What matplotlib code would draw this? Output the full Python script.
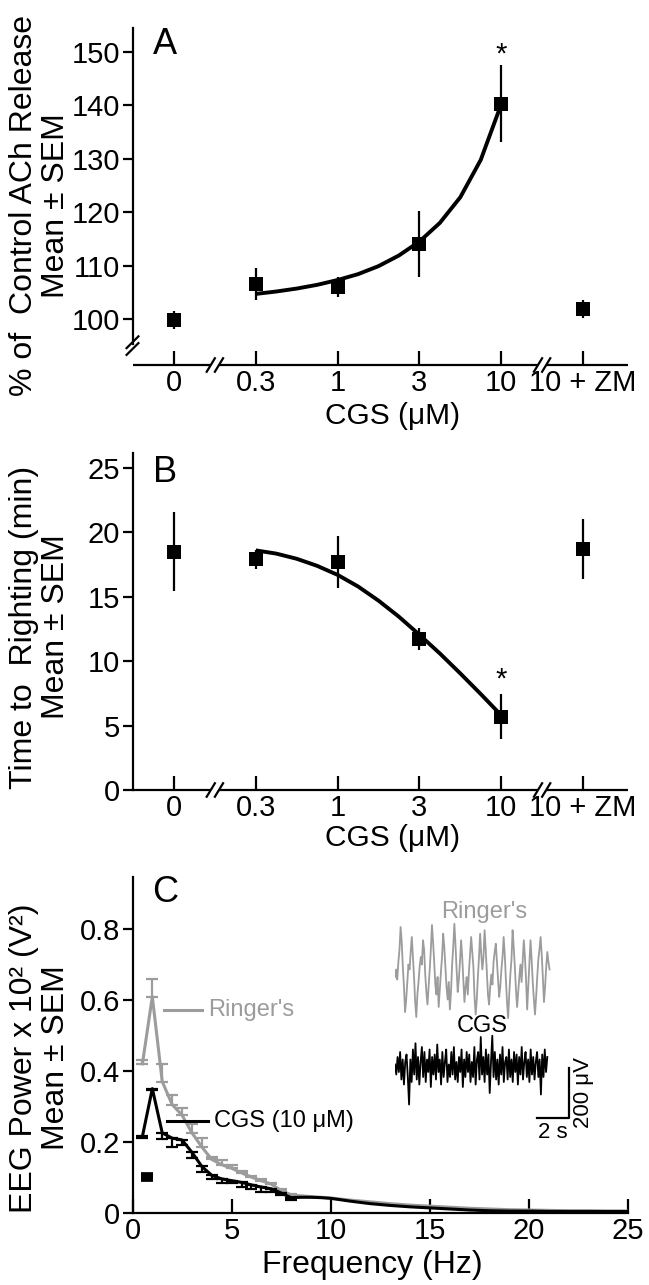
import matplotlib
matplotlib.use("Agg")
import matplotlib.pyplot as plt
from matplotlib import font_manager
import numpy as np

# ---------------- data ----------------
cgs_labels = ["0", "0.3", "1", "3", "10", "10 + ZM"]

ach_mean = [99.8, 106.5, 106.0, 114.1, 140.3, 101.9]
ach_sem = [1.7, 3.0, 1.9, 6.2, 7.2, 1.7]
ach_fit_pos = [1.0, 1.25, 1.5, 1.75, 2.0, 2.25, 2.5, 2.75, 3.0, 3.25, 3.5, 3.75, 4.0]
ach_fit_val = [104.7, 105.15, 105.7, 106.4, 107.3, 108.4, 109.9, 111.9, 114.5, 118.0, 122.8,
               129.8, 140.2]

rr_mean = [18.5, 17.9, 17.7, 11.7, 5.7, 18.7]
rr_sem = [3.05, 0.75, 2.0, 0.85, 1.75, 2.3]
rr_fit_pos = [1.0, 1.25, 1.5, 1.75, 2.0, 2.25, 2.5, 2.75, 3.0, 3.25, 3.5, 3.75, 4.0]
rr_fit_val = [18.6, 18.35, 17.95, 17.4, 16.7, 15.8, 14.7, 13.45, 12.05, 10.6, 9.05, 7.45, 5.8]

freq_hz = [0.5, 1.0, 1.5, 2.0, 2.5, 3.0, 3.5, 4.0, 4.5, 5.0, 5.5, 6.0, 6.5, 7.0, 7.5, 8.0,
           8.5, 9.0, 9.5, 10.0, 11, 12, 13, 14, 15, 16, 17, 18, 19, 20, 21, 22, 23, 24, 25]
ringer_power = [0.42, 0.61, 0.37, 0.305, 0.275, 0.225, 0.185, 0.15, 0.135, 0.125, 0.112, 0.100,
                0.090, 0.080, 0.062, 0.050, 0.047, 0.045, 0.043, 0.041, 0.035, 0.030, 0.025,
                0.021, 0.018, 0.015, 0.012, 0.010, 0.008, 0.007, 0.006, 0.005, 0.005, 0.004, 0.004]
ringer_sem = [0.012, 0.05, 0.05, 0.028, 0.02, 0.025, 0.025, 0.008, 0.012, 0.010, 0.006, 0.004,
              0.004, 0.004, 0.003, 0.003]
cgs_power = [0.215, 0.35, 0.225, 0.21, 0.205, 0.17, 0.13, 0.105, 0.095, 0.09, 0.085, 0.078,
             0.072, 0.067, 0.055, 0.042, 0.043, 0.043, 0.042, 0.040, 0.032, 0.025, 0.020,
             0.016, 0.013, 0.010, 0.007, 0.005, 0.004, 0.004, 0.003, 0.003, 0.003, 0.003, 0.003]
cgs_sem = [0.005, 0.005, 0.018, 0.024, 0.015, 0.017, 0.015, 0.009, 0.011, 0.008, 0.012, 0.013,
           0.013, 0.008, 0.006, 0.007]
sig_band_hz = [0.45, 1.05]
sig_level = 0.1

# EEG example traces (microvolts), sampled every 0.07 s (Ringer's) and 0.08 s (CGS)
ringer_trace = [-20, 10, -30, 40, 90, 180, 120, 20, -60, -160, -110, -40,
                30, 10, 80, 140, 60, -20, -120, -180, -90, -40,
                20, 60, 30, 127, 90, -10, -80, -130, -60,
                10, 90, 188, 120, 40, -50, -90, -20, -140, -70,
                0, 60, 153, 100, 20, -60, -110, -40, -150, -80,
                30, 100, 193, 110, 10, -80, -30, 40,
                127, 60, -30, -120, -60, -20, -90,
                0, 70, 140, 80, 20, -100, -170, -110,
                -20, 60, 153, 70, 10, 60, 167, 90, 0, -90, -130, -60,
                -10, -50, 40, 80, 113, 40, -40, -100, -60,
                10, 60, 140, 70, -30, -120, -184, -90,
                -10, 50, 167, 100, 20, -70, -140, -80, -20, 30, -40,
                40, 127, 60, -30, -150, -60, 30, 127, 50, -40, -110, -170, -100,
                -20, 50, 90, 140, 70, -20, -120, -60, 20, 80, 40, 10]
cgs_trace = [10, -30, 40, -20, 60, -50, 30, -70, 20, 50,
             -40, -150, 30, -60, 70, -30, 95, -50, 40, -70,
             20, 80, -40, 60, -60, 30, -20, 70, -80, 40,
             -30, 50, -50, 90, -20, 30, -70, 60, -40, 20,
             70, -60, 10, -40, 60, -30, 80, -50, 20, -60,
             40, -20, 70, -80, 30, -40, 60, -20, 50, -60,
             20, -40, 80, -70, 30, 60, -50, 120, -30, 40,
             -60, 70, -30, 50, -104, 20, 125, -40, 60, -50,
             30, -70, 50, -30, 80, -60, 20, 40, -50, 70,
             -40, 30, -60, 60, -20, 50, -70, 40, -30, 80,
             -50, 20, 60, -40, 30, -60, 70, -30, 40, -50,
             20, 60, -40, 30, -110, 50, -40, 70, -20, 40]
ringer_dt = 0.07
cgs_dt = 0.08

# ---------------- style ----------------
names = {f.name for f in font_manager.fontManager.ttflist}
main_font = "Liberation Sans" if "Liberation Sans" in names else "DejaVu Sans"
plt.rcParams["font.family"] = [main_font, "DejaVu Sans"]
plt.rcParams["axes.linewidth"] = 1.6

W, H = 649, 1285
fig = plt.figure(figsize=(W / 100, H / 100), dpi=100)
GRAY = "#9c9c9c"

TICK_FS = 21
XLAB_FS = 21.5
YLAB_FS = 23
LET_FS = 26


def fx(px):
    return px / W


def fy(py):
    return 1 - py / H


def make_axes(top_px, bot_px):
    return fig.add_axes([fx(132.5), fy(bot_px), fx(628) - fx(132.5), (bot_px - top_px) / H])


def style(ax):
    for s in ("top", "right"):
        ax.spines[s].set_visible(False)
    ax.tick_params(axis="y", direction="out", length=7, width=1.6, labelsize=TICK_FS, pad=2)
    ax.tick_params(axis="x", direction="in", length=10, width=1.6, labelsize=TICK_FS, pad=3)


def ylabel2(text, cy):
    fig.text(fx(40), fy(cy), text, fontsize=YLAB_FS, rotation=90, ha="center", va="center",
             multialignment="center", linespacing=1.12)


def broken_xaxis(ax):
    ax.spines["bottom"].set_visible(False)
    xl, xr = ax.get_xlim()
    tr = ax.get_xaxis_transform()
    g = 0.05
    segs = [(xl, 0.5 - g), (0.5 + g, 4.5 - g), (4.5 + g, xr)]
    for a, b in segs:
        ax.plot([a, b], [0, 0], color="k", lw=1.6, transform=tr, clip_on=False,
                solid_capstyle="butt")
    for c in (0.5 - g, 0.5 + g, 4.5 - g, 4.5 + g):
        ax.plot([c - 0.05, c + 0.05], [-0.02, 0.02], color="k", lw=1.6, transform=tr,
                clip_on=False)


def cat_panel(ax, mean, sem, fit_pos, fit_val, ylim, yticks):
    pos = np.arange(len(cgs_labels))
    ax.set_xlim(-0.507, 5.55)
    ax.set_ylim(*ylim)
    ax.errorbar(pos, mean, yerr=sem, fmt="s", color="k", ms=10, mew=0, elinewidth=1.6,
                capsize=6, capthick=1.6, zorder=3, clip_on=False)
    ax.plot(fit_pos, fit_val, color="k", lw=2.8, zorder=4, solid_capstyle="butt",
            solid_joinstyle="round")
    ax.set_xticks(pos)
    ax.set_xticklabels(cgs_labels)
    ax.set_yticks(yticks)
    style(ax)
    broken_xaxis(ax)


# ---------------- panel A ----------------
axA = make_axes(28, 365)
cat_panel(axA, ach_mean, ach_sem, ach_fit_pos, ach_fit_val, (91.39, 154.49),
          [100, 110, 120, 130, 140, 150])
axA.spines["left"].set_bounds(95.4, 154.49)
trA = axA.transAxes
for dy in (0.0, 0.02):
    axA.plot([-0.012, 0.012], [0.03 + dy, 0.065 + dy], color="k", lw=1.6, transform=trA,
             clip_on=False)
axA.text(4, ach_mean[4] + ach_sem[4] + 2.1, "*", ha="center", va="center", fontsize=21)
fig.text(fx(165), fy(45), "A", fontsize=LET_FS, ha="center", va="center")
fig.text(fx(393), fy(416), "CGS (\u03bcM)", fontsize=XLAB_FS, ha="center", va="center")
ylabel2("% of  Control ACh Release\nMean \u00b1 SEM", 206)

# ---------------- panel B ----------------
axB = make_axes(453, 790)
cat_panel(axB, rr_mean, rr_sem, rr_fit_pos, rr_fit_val, (0, 26.16), [0, 5, 10, 15, 20, 25])
axB.text(4, rr_mean[4] + rr_sem[4] + 1.15, "*", ha="center", va="center", fontsize=21)
fig.text(fx(165), fy(472), "B", fontsize=LET_FS, ha="center", va="center")
fig.text(fx(393), fy(838), "CGS (\u03bcM)", fontsize=XLAB_FS, ha="center", va="center")
ylabel2("Time to  Righting (min)\nMean \u00b1 SEM", 627)

# ---------------- panel C ----------------
axC = make_axes(877, 1212.5)
axC.set_xlim(0, 25)
axC.set_ylim(0, 0.948)
ne = len(ringer_sem)
axC.plot(freq_hz, ringer_power, color=GRAY, lw=2.2, zorder=2)
axC.errorbar(freq_hz[:ne], ringer_power[:ne], yerr=[[0] * ne, ringer_sem], fmt="none",
             ecolor=GRAY, elinewidth=1.6, capsize=4, capthick=1.6, zorder=2)
axC.plot(freq_hz, cgs_power, color="k", lw=2.2, zorder=3)
axC.errorbar(freq_hz[:ne], cgs_power[:ne], yerr=[cgs_sem, [0] * ne], fmt="none",
             ecolor="k", elinewidth=1.6, capsize=4, capthick=1.6, zorder=3)
axC.hlines(sig_level, sig_band_hz[0], sig_band_hz[1], color="k", lw=7)
axC.set_xticks([0, 5, 10, 15, 20, 25])
axC.set_yticks([0, 0.2, 0.4, 0.6, 0.8])
axC.set_yticklabels(["0", "0.2", "0.4", "0.6", "0.8"])
style(axC)
# legend-like labels
trC = axC.transAxes
axC.plot([0.064, 0.14], [0.603, 0.603], color=GRAY, lw=2.2, transform=trC)
axC.text(0.153, 0.603, "Ringer's", color=GRAY, fontsize=17, va="center", ha="left",
         transform=trC)
axC.plot([0.07, 0.152], [0.274, 0.274], color="k", lw=2.2, transform=trC)
axC.text(0.165, 0.274, "CGS (10 \u03bcM)", color="k", fontsize=17, va="center", ha="left",
         transform=trC)
fig.text(fx(165), fy(892), "C", fontsize=LET_FS, ha="center", va="center")
fig.text(fx(372), fy(1265), "Frequency (Hz)", fontsize=23, ha="center", va="center")
ylabel2("EEG Power x 10\u00b2 (V\u00b2)\nMean \u00b1 SEM", 1058)

# inset traces: x in s (16 px/s), y in uV (0.25 px/uV)
axI = fig.add_axes([fx(395), fy(1125), 180 / W, 225 / H])
axI.set_xlim(0, 11.25)
axI.set_ylim(0, 900)
axI.axis("off")
t_r = np.arange(len(ringer_trace)) * ringer_dt
t_c = np.arange(len(cgs_trace)) * cgs_dt
axI.plot(t_r, np.array(ringer_trace) + 612, color=GRAY, lw=1.3)
axI.plot(t_c, np.array(cgs_trace) + 232, color="k", lw=1.3)
axI.plot([8.875, 10.875, 10.875], [28, 28, 228], color="k", lw=1.6, clip_on=False)
axI.text(9.875, 10, "2 s", ha="center", va="top", fontsize=16)
axI.text(11.15, 128, "200 \u03bcV", ha="left", va="center", rotation=90, fontsize=16)
axI.text(5.6, 852, "Ringer's", color=GRAY, ha="center", va="center", fontsize=17)
axI.text(5.44, 396, "CGS", color="k", ha="center", va="center", fontsize=17)

fig.savefig("out.png", dpi=100)
